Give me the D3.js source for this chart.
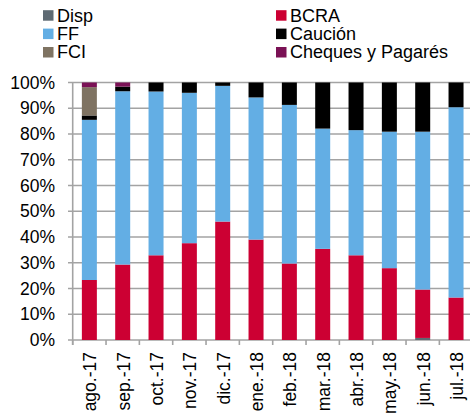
<!DOCTYPE html>
<html><head><meta charset="utf-8">
<script src="https://cdn.jsdelivr.net/npm/d3@7"></script>
<style>body{margin:0;background:#fff;}svg{display:block;font-family:"Liberation Sans",Arial,sans-serif;}</style>
</head><body><svg id="c" width="470" height="418"></svg>
<script>
const categories = ["ago.-17","sep.-17","oct.-17","nov.-17","dic.-17","ene.-18","feb.-18","mar.-18","abr.-18","may.-18","jun.-18","jul.-18"];
const seriesNames = ["Disp","BCRA","FF","Caución","FCI","Cheques y Pagarés"];
const disp    = [0,0,0,0,0,0,0,0,0,0,0.8,0];
const bcra    = [23.3,29.3,32.9,37.6,46.0,39.0,29.7,35.4,32.9,27.9,18.8,16.5];
const ff      = [62.2,67.3,63.6,58.4,52.7,55.2,61.6,46.7,48.6,53.0,61.3,73.9];
const caucion = [1.7,1.8,3.5,4.0,1.3,5.8,8.7,17.9,18.5,19.1,19.1,9.6];
const fci     = [11.0,0,0,0,0,0,0,0,0,0,0,0];
const cheques = [1.8,1.6,0,0,0,0,0,0,0,0,0,0];
const yTicks  = [0,10,20,30,40,50,60,70,80,90,100];

const colors = {"Disp":"#5e6a73","BCRA":"#cc0033","FF":"#63aee4","Caución":"#000000","FCI":"#7f7362","Cheques y Pagarés":"#7a1155"};
const seriesData = {"Disp":disp,"BCRA":bcra,"FF":ff,"Caución":caucion,"FCI":fci,"Cheques y Pagarés":cheques};

const rows = categories.map((c,i)=>{const r={cat:c};seriesNames.forEach(s=>r[s]=seriesData[s][i]);return r;});
const stack = d3.stack().keys(seriesNames)(rows);

const svg = d3.select("#c");
const x = d3.scaleBand().domain(categories).range([72.7,472.7]).paddingInner(0.55).paddingOuter(0.275);
const y = d3.scaleLinear().domain([0,100]).range([340,82.5]);

// gridlines
svg.append("g").selectAll("line").data(yTicks).join("line")
  .attr("x1",68).attr("x2",470).attr("y1",d=>y(d)).attr("y2",d=>y(d))
  .attr("stroke","#a3a3a3").attr("stroke-width",1.6);
// vertical axis line
svg.append("line").attr("x1",72.7).attr("x2",72.7).attr("y1",y(100)).attr("y2",y(0)+5)
  .attr("stroke","#a3a3a3").attr("stroke-width",1.6);
// x tick marks at band boundaries
const step = x.step();
const tickXs = d3.range(categories.length).map(i=>72.7+i*step);
svg.append("g").selectAll("line").data(tickXs).join("line")
  .attr("x1",d=>d).attr("x2",d=>d).attr("y1",y(0)).attr("y2",y(0)+5)
  .attr("stroke","#a3a3a3").attr("stroke-width",1.6);

// bars
svg.append("g").selectAll("g").data(stack).join("g")
  .attr("fill",d=>colors[d.key])
  .selectAll("rect").data(d=>d).join("rect")
  .attr("x",d=>x(d.data.cat)).attr("width",x.bandwidth())
  .attr("y",d=>y(d[1])).attr("height",d=>Math.max(0,y(d[0])-y(d[1])));

// y labels
svg.append("g").selectAll("text").data(yTicks).join("text")
  .attr("x",55).attr("y",d=>y(d)).attr("dy","0.35em").attr("text-anchor","end")
  .attr("font-size",17.5).attr("fill","#000").text(d=>d+"%");

// x labels
svg.append("g").selectAll("text").data(categories).join("text")
  .attr("transform",d=>`translate(${x(d)+x.bandwidth()/2+1},352) rotate(-90)`)
  .attr("dy","0.35em").attr("text-anchor","end")
  .attr("font-size",17.5).attr("fill","#000").text(d=>d);

// legend
const legendItems = [
  {name:"Disp",col:0,row:0},{name:"FF",col:0,row:1},{name:"FCI",col:0,row:2},
  {name:"BCRA",col:1,row:0},{name:"Caución",col:1,row:1},{name:"Cheques y Pagarés",col:1,row:2}];
const colX=[43,276];
const lg = svg.append("g").selectAll("g").data(legendItems).join("g")
  .attr("transform",d=>`translate(${colX[d.col]},${15.2+d.row*18.4})`);
lg.append("rect").attr("x",0).attr("y",-5).attr("width",10.5).attr("height",10.5).attr("fill",d=>colors[d.name]);
lg.append("text").attr("x",14).attr("y",0).attr("dy","0.36em").attr("font-size",18).attr("fill","#000").text(d=>d.name);
</script></body></html>
